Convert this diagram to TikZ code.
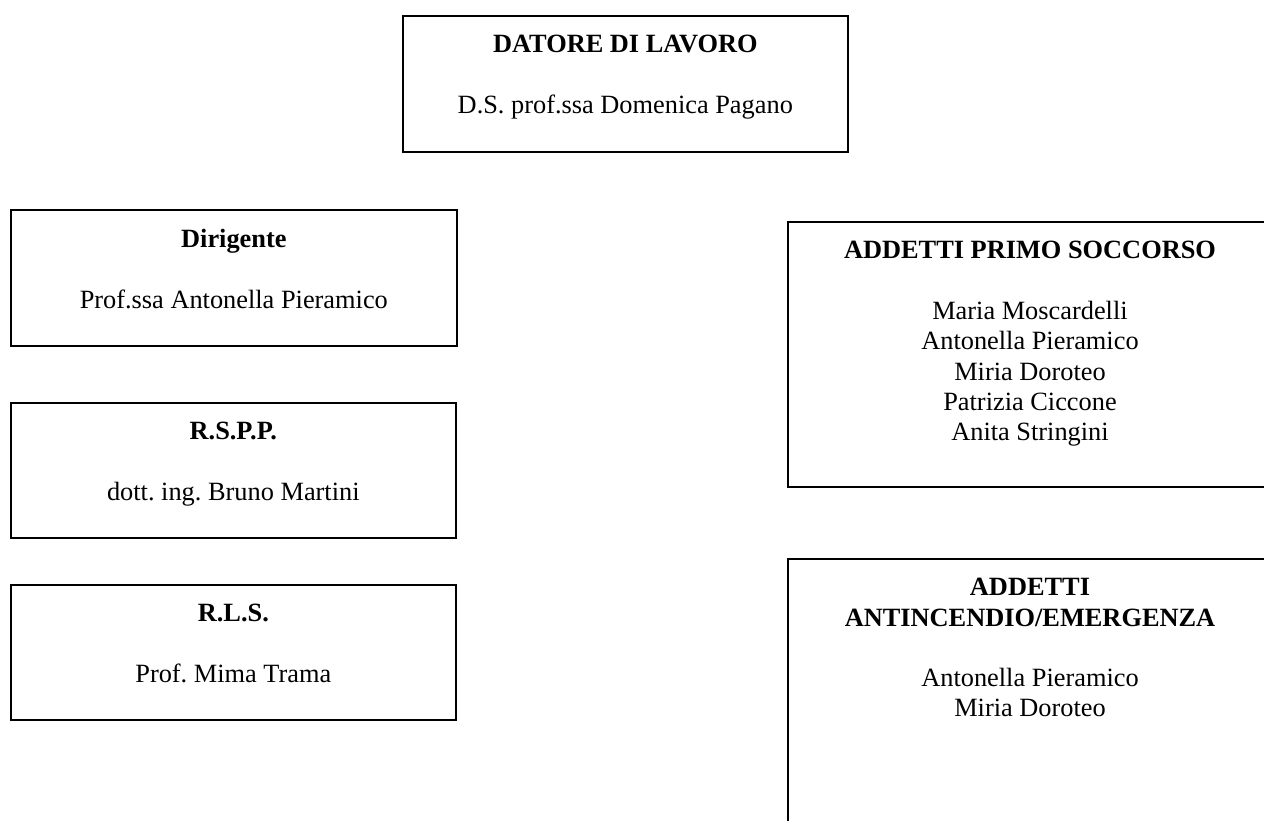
\documentclass[tikz,border=0pt]{standalone}
\usepackage{fontspec}
\setmainfont{Liberation Serif}
\usetikzlibrary{positioning}
\frenchspacing

\begin{document}
\begin{tikzpicture}[x=0.02cm,y=-0.02cm,
    box/.style={draw,line width=1pt,anchor=north west,inner sep=0pt},
    testo/.style={font=\fontsize{15}{17.25}\selectfont,anchor=north,inner sep=0pt,align=center}]
    %area
    \clip (0,0) rectangle (1264,821);
    %riquadri
    \node[box,minimum width=8.9cm,minimum height=2.72cm] (datore) at (402,15) {};
    \node[box,minimum width=8.92cm,minimum height=2.72cm] (dirigente) at (10,209) {};
    \node[box,minimum width=8.9cm,minimum height=2.7cm] (rspp) at (10,402) {};
    \node[box,minimum width=8.9cm,minimum height=2.7cm] (rls) at (10,584) {};
    \node[box,minimum width=10cm,minimum height=5.3cm] (soccorso) at (787,221) {};
    \node[box,minimum width=10cm,minimum height=6cm] (antincendio) at (787,558) {};
    %centro colonna destra
    \coordinate (soccorsoC) at (1030,221);
    \coordinate (antincendioC) at (1030,558);
    %testi
    \node[testo,below=0.4cm of datore.north] (datoreT) {\textbf{DATORE DI LAVORO}\\[17.25pt] D.S. prof.ssa Domenica Pagano};
    \node[testo,below=0.4cm of dirigente.north] (dirigenteT) {\textbf{Dirigente}\\[17.25pt] Prof.ssa Antonella Pieramico};
    \node[testo,below=0.4cm of rspp.north] (rsppT) {\textbf{R.S.P.P.}\\[17.25pt] dott. ing. Bruno Martini};
    \node[testo,below=0.4cm of rls.north] (rlsT) {\textbf{R.L.S.}\\[17.25pt] Prof. Mima Trama};
    \node[testo,below=0.4cm of soccorsoC] (soccorsoT) {\textbf{ADDETTI PRIMO SOCCORSO}\\[17.25pt] Maria Moscardelli\\ Antonella Pieramico\\ Miria Doroteo\\ Patrizia Ciccone\\ Anita Stringini};
    \node[testo,below=0.4cm of antincendioC] (antincendioT) {\textbf{ADDETTI}\\ \textbf{ANTINCENDIO/EMERGENZA}\\[17.25pt] Antonella Pieramico\\ Miria Doroteo};
\end{tikzpicture}
\end{document}
